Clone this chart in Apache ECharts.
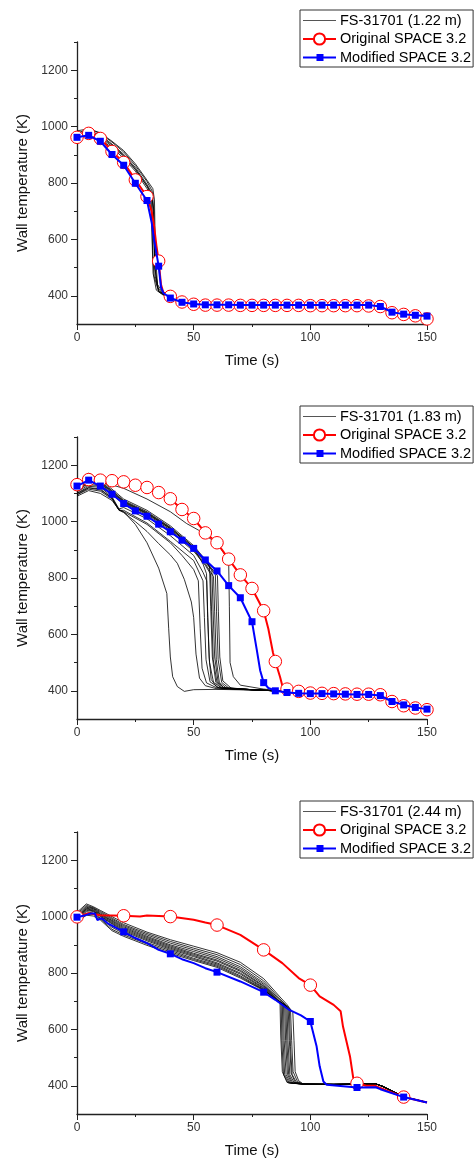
<!DOCTYPE html>
<html>
<head>
<meta charset="utf-8">
<script src="https://cdn.jsdelivr.net/npm/echarts@6/dist/echarts.min.js"></script>
<style>
  html, body { margin: 0; padding: 0; background: #fff; }
  #chart { width: 475px; height: 1160px; }
</style>
</head>
<body>
<div id="chart"></div>
<script>
// ---- panel names ----
var expNames = ['FS-31701 (1.22 m)', 'FS-31701 (1.83 m)', 'FS-31701 (2.44 m)'];
var origName = 'Original SPACE 3.2';
var modName = 'Modified SPACE 3.2';
var yLabels = [400, 600, 800, 1000, 1200];
var yMinor = [500, 700, 900, 1100, 1300];

// ---- 1.22 m ----
var expA = [
    [[0,978],[3,985],[5,990],[8,982],[10,975],[15,945],[20,910],[25,862],[30,805],[32,775],[32.5,760],[33,600],[33.5,470],[35,415],[38,400],[45,385],[60,372]],
    [[0,970],[5,985],[10,970],[15,938],[20,902],[25,855],[30,795],[32,765],[32.7,700],[33.2,520],[34.5,430],[37,405],[45,383],[60,370]],
    [[0,960],[5,978],[10,962],[15,930],[20,895],[25,848],[30,788],[31.5,765],[32,650],[32.6,480],[34,420],[37,402],[45,382],[60,370]],
    [[0,985],[5,992],[10,978],[15,948],[20,915],[25,868],[30,810],[32.5,780],[33.2,740],[33.6,550],[34.5,440],[37,408],[45,385],[60,372]],
    [[0,955],[5,972],[10,955],[15,925],[20,888],[25,842],[30,780],[32,750],[32.4,560],[33,470],[35,415],[38,400],[45,382],[60,370]],
    [[0,975],[5,980],[10,965],[15,935],[20,898],[25,850],[30,790],[32,760],[33,700],[33.3,500],[35,418],[39,398],[50,378]]
];
var origA = [[0,962],[5,976],[10,958],[15,912],[20,873],[25,811],[30,752],[32,700],[33,650],[34,580],[35,523],[36,440],[37,412],[40,398],[45,378],[50,370],[55,367],[60,367],[65,367],[70,366],[75,366],[80,366],[85,366],[90,366],[95,366],[100,365],[105,365],[110,365],[115,365],[120,365],[125,364],[130,362],[135,340],[140,334],[145,329],[150,318]];
var modA = [[0,962],[5,969],[10,948],[15,901],[20,863],[25,799],[30,738],[32,660],[33,600],[35,505],[36,430],[37,410],[40,392],[45,377],[50,371],[55,368],[60,368],[65,368],[70,367],[75,367],[80,367],[85,367],[90,367],[95,367],[100,367],[105,367],[110,367],[115,367],[120,367],[125,367],[130,362],[135,342],[140,335],[145,331],[150,328]];

// ---- 1.83 m ----
var expB = [
    [[0,1100],[5,1120],[10,1112],[15,1085],[18,1042],[20,1035],[25,990],[30,925],[35,835],[38.5,745],[39.3,620],[40,520],[41,450],[43,415],[46,398],[50,404],[60,405],[80,402],[88,398]],
    [[0,1095],[5,1115],[10,1108],[15,1080],[18,1040],[20,1032],[25,1000],[30,965],[35,922],[40,882],[43,852],[46,795],[49,715],[50,660],[51,530],[52.5,445],[55,418],[60,407],[80,402],[88,398]],
    [[0,1115],[5,1140],[10,1138],[15,1105],[20,1070],[30,1030],[40,975],[50,905],[54,850],[55.5,815],[56,680],[56.6,520],[57.5,440],[60,412],[70,405],[85,400]],
    [[0,1125],[5,1150],[10,1148],[15,1115],[20,1080],[30,1040],[40,985],[50,915],[55,865],[56.8,840],[57.3,700],[58,520],[59.5,430],[62,410],[70,405],[85,400]],
    [[0,1110],[5,1135],[10,1132],[15,1098],[20,1060],[30,1020],[40,965],[50,895],[55,845],[57.2,815],[57.7,680],[58.4,510],[60,430],[63,410],[75,404],[85,400]],
    [[0,1120],[5,1145],[10,1143],[15,1110],[20,1075],[30,1035],[40,980],[50,910],[55,860],[57.8,830],[58.3,690],[59,520],[60.5,430],[63,410],[75,404],[85,400]],
    [[0,1105],[5,1130],[10,1128],[15,1095],[20,1065],[30,1025],[40,970],[50,900],[55,850],[58.5,805],[59,680],[59.7,510],[61,430],[64,410],[75,404],[85,400]],
    [[0,1112],[5,1138],[10,1136],[15,1102],[20,1068],[30,1028],[40,975],[50,905],[55,856],[59.3,812],[59.8,680],[60.5,510],[62,430],[65,410],[75,404],[85,400]],
    [[0,1118],[5,1142],[10,1140],[15,1108],[20,1072],[30,1032],[40,978],[50,910],[55,862],[60.2,808],[60.6,680],[61.2,520],[62.5,435],[66,410],[75,404],[85,400]],
    [[0,1100],[5,1125],[10,1122],[15,1088],[18,1045],[20,1050],[30,1010],[40,950],[50,880],[54,820],[55.6,790],[56,660],[56.8,500],[58.5,430],[62,410],[75,404],[85,400]],
    [[0,1095],[5,1120],[10,1116],[15,1082],[18,1040],[20,1040],[30,995],[40,930],[50,862],[54,790],[54.6,660],[55.3,510],[57,432],[61,410],[75,404],[85,400]],
    [[0,1105],[5,1172],[10,1145],[15,1130],[20,1118],[30,1080],[40,1035],[47,993],[52,970],[58,934],[62,900],[65,862],[65.3,700],[65.6,500],[67,450],[70,420],[80,406],[90,398]],
    [[0,1090],[5,1110],[10,1100],[15,1075],[18,1042],[20,1035],[30,990],[40,925],[45,880],[50,830],[52,790],[52.8,620],[53.6,480],[55.5,428],[60,410],[80,402]]
];
var origB = [[0,1131],[5,1149],[10,1147],[15,1145],[20,1141],[25,1129],[30,1121],[35,1103],[40,1081],[45,1043],[50,1011],[55,960],[60,925],[65,867],[70,811],[75,763],[80,684],[82,620],[84,535],[85,504],[87,450],[88,418],[90,406],[95,398],[100,392],[105,391],[110,390],[115,389],[120,388],[125,388],[130,386],[135,362],[140,347],[145,339],[150,333]];
var modB = [[0,1126],[5,1147],[10,1126],[15,1097],[20,1064],[25,1038],[30,1019],[35,991],[40,964],[45,934],[50,905],[55,864],[60,825],[65,773],[70,730],[75,645],[77,548],[78.5,472],[80,429],[82,410],[85,400],[90,394],[95,391],[100,390],[105,390],[110,389],[115,388],[120,387],[125,387],[130,383],[135,362],[140,350],[145,341],[150,335]];

// ---- 2.44 m ----
var expC = [
    [[0,1015],[4,1045],[7,1035],[10,1022],[20,978],[30,945],[40,918],[50,895],[60,872],[70,838],[80,780],[87,715],[90,688],[92.5,660],[93,560],[93.5,450],[95,418]],
    [[0,1010],[4,1040],[7,1032],[10,1018],[20,972],[30,940],[40,912],[50,888],[60,865],[70,830],[80,772],[87,708],[91.5,670],[92,560],[92.6,450],[94.5,415]],
    [[0,1005],[4,1036],[7,1030],[10,1014],[20,968],[30,935],[40,906],[50,882],[60,858],[70,822],[80,765],[87,703],[91,672],[91.5,540],[92.2,440],[94,413]],
    [[0,1000],[4,1033],[7,1028],[10,1010],[20,964],[30,930],[40,900],[50,876],[60,852],[70,816],[80,760],[87,698],[90.5,675],[91,560],[91.8,445],[93.5,412]],
    [[0,998],[4,1030],[7,1025],[10,1008],[20,960],[30,926],[40,896],[50,870],[60,846],[70,810],[80,755],[86,705],[90,680],[90.4,560],[91.2,440],[93,412]],
    [[0,995],[4,1028],[7,1022],[10,1005],[20,956],[30,922],[40,892],[50,866],[60,842],[70,806],[80,752],[86,702],[89.5,684],[89.9,560],[90.7,440],[92.5,410]],
    [[0,992],[4,1025],[7,1020],[10,1002],[20,952],[30,918],[40,888],[50,862],[60,836],[70,800],[80,748],[86,700],[89,688],[89.4,560],[90.2,440],[92,410]],
    [[0,990],[4,1022],[7,1018],[10,1000],[20,948],[30,914],[40,884],[50,858],[60,832],[70,796],[80,745],[86,698],[88.5,690],[88.8,560],[89.6,440],[91.5,410]],
    [[0,988],[4,1018],[7,1012],[10,995],[15,962],[20,940],[30,908],[40,880],[50,852],[60,828],[70,790],[80,742],[86,700],[88,692],[88.3,560],[89,440],[91,410]],
    [[0,985],[4,1012],[7,1008],[10,992],[15,955],[20,935],[30,903],[40,875],[50,848],[60,824],[70,786],[80,740],[85.5,705],[87.5,695],[87.8,560],[88.5,440],[90.5,410]],
    [[0,980],[4,1005],[7,1002],[10,988],[15,950],[20,930],[30,898],[40,870],[50,844],[60,820],[70,782],[80,738],[85,708],[87,698],[87.3,580],[88,450],[90,412]]
];
var tailC = [[97,406],[110,405],[128,407],[131,398],[140,361],[150,341]];
var origC = [[0,999],[5,1012],[10,1005],[20,1003],[27,1000],[30,1004],[40,1000],[50,989],[55,979],[60,970],[70,935],[80,882],[88,835],[95,782],[100,757],[104,717],[110,687],[113,664],[114,610],[117,504],[118.4,427],[120,409],[124,400],[128,400],[130,392],[140,360],[150,341]];
var modC = [[0,998],[4,1006],[6,1011],[7.7,1011],[8.7,988],[10.6,994],[13,977],[20,946],[25,924],[30,906],[35,882],[40,868],[45,849],[50,835],[55,817],[60,803],[70,770],[80,732],[85,705],[91,669],[96,650],[100,628],[102.7,539],[104,469],[105.6,415],[107,404],[120,394],[128,395],[130,388],[140,360],[150,341]];

var panels = [
    {exp: expA, tail: null, orig: origA, mod: modA, step: 5, top: 42, legendTop: 10},
    {exp: expB, tail: null, orig: origB, mod: modB, step: 5, top: 437, legendTop: 406},
    {exp: expC, tail: tailC, orig: origC, mod: modC, step: 20, top: 832, legendTop: 801}
];

var FONT = "'Liberation Sans', Arial, sans-serif";
// legend icons: thin line / line with a small square
var ICON_LINE = 'path://M0,0H33V1H0Z';
var ICON_SQUARE = 'path://M0,2.6H13.5V0H20.5V2.6H33V4.4H20.5V7H13.5V4.4H0Z';

// markers only on the multiples of step, the rest is just the line
function withMarks(points, step) {
    return points.map(function (p) {
        if (p[0] % step === 0) return {value: p};
        return {value: p, symbol: 'none'};
    });
}

var grids = [], xAxes = [], yAxes = [], legends = [], series = [];

panels.forEach(function (pn, i) {
    grids.push({left: 77, top: pn.top, width: 350, height: 282});
    xAxes.push({
        type: 'value', gridIndex: i, min: 0, max: 150, interval: 50,
        name: 'Time (s)', nameLocation: 'middle', nameGap: 29,
        nameTextStyle: {fontFamily: FONT, fontSize: 15, color: '#111'},
        axisLine: {show: true, onZero: false, lineStyle: {color: '#222', width: 1.3}},
        axisTick: {show: true, length: 6, lineStyle: {color: '#222'}},
        minorTick: {show: true, splitNumber: 2, length: 3, lineStyle: {color: '#222'}},
        axisLabel: {fontFamily: FONT, fontSize: 12, color: '#333', margin: 8, showMinLabel: true, showMaxLabel: true},
        splitLine: {show: false}
    });
    yAxes.push({
        type: 'value', gridIndex: i, min: 300, max: 1300, interval: 100,
        name: 'Wall temperature (K)', nameLocation: 'middle', nameGap: 47, nameRotate: 90,
        nameTextStyle: {fontFamily: FONT, fontSize: 15, color: '#111'},
        axisLine: {show: true, onZero: false, lineStyle: {color: '#222', width: 1.3}},
        axisTick: {show: true, length: 6, customValues: yLabels, lineStyle: {color: '#222'}},
        axisLabel: {
            fontFamily: FONT, fontSize: 12, color: '#333', margin: 9,
            customValues: yLabels,
            formatter: function (v) { return yLabels.indexOf(v) >= 0 ? String(v) : ''; }
        },
        splitLine: {show: false}
    });
    legends.push({
        left: 300, top: pn.legendTop, orient: 'vertical',
        data: [
            {name: expNames[i], icon: ICON_LINE},
            {name: origName},
            {name: modName, icon: ICON_SQUARE}
        ],
        itemWidth: 33, itemHeight: 14, itemGap: 3.5,
        symbolKeepAspect: true,
        padding: [3, 2, 2, 2],
        borderColor: '#333', borderWidth: 1,
        textStyle: {fontFamily: FONT, fontSize: 14.5, color: '#000', padding: [0, 0, 0, -1]}
    });

    pn.exp.forEach(function (c) {
        series.push({
            name: expNames[i], type: 'line', xAxisIndex: i, yAxisIndex: i,
            data: pn.tail ? c.concat(pn.tail) : c,
            symbol: 'none', z: 1,
            itemStyle: {color: '#555'},
            lineStyle: {color: '#000', width: 0.8}
        });
    });
    // hollow circles with a thin rim
    series.push({
        name: origName, type: 'line', xAxisIndex: i, yAxisIndex: i,
        data: withMarks(pn.orig, pn.step),
        symbol: 'circle', symbolSize: 12.5, showAllSymbol: true, z: 3,
        itemStyle: {color: '#fff', borderColor: '#ff0000', borderWidth: 1},
        lineStyle: {color: '#ff0000', width: 2}
    });
    series.push({
        name: modName, type: 'line', xAxisIndex: i, yAxisIndex: i,
        data: withMarks(pn.mod, pn.step),
        symbol: 'rect', symbolSize: 7, showAllSymbol: true, z: 4,
        itemStyle: {color: '#0000ff'},
        lineStyle: {color: '#0000ff', width: 2}
    });
});

// short ticks on the odd hundreds
panels.forEach(function (pn, i) {
    yAxes.push({
        type: 'value', gridIndex: i, min: 300, max: 1300, interval: 100, position: 'left',
        axisLine: {show: false},
        axisTick: {show: true, length: 3, customValues: yMinor, lineStyle: {color: '#222'}},
        axisLabel: {show: false},
        splitLine: {show: false}
    });
});

var myChart = echarts.init(document.getElementById('chart'), null, {renderer: 'canvas'});
myChart.setOption({
    animation: false,
    backgroundColor: '#fff',
    grid: grids,
    xAxis: xAxes,
    yAxis: yAxes,
    legend: legends,
    series: series
});
</script>
</body>
</html>
